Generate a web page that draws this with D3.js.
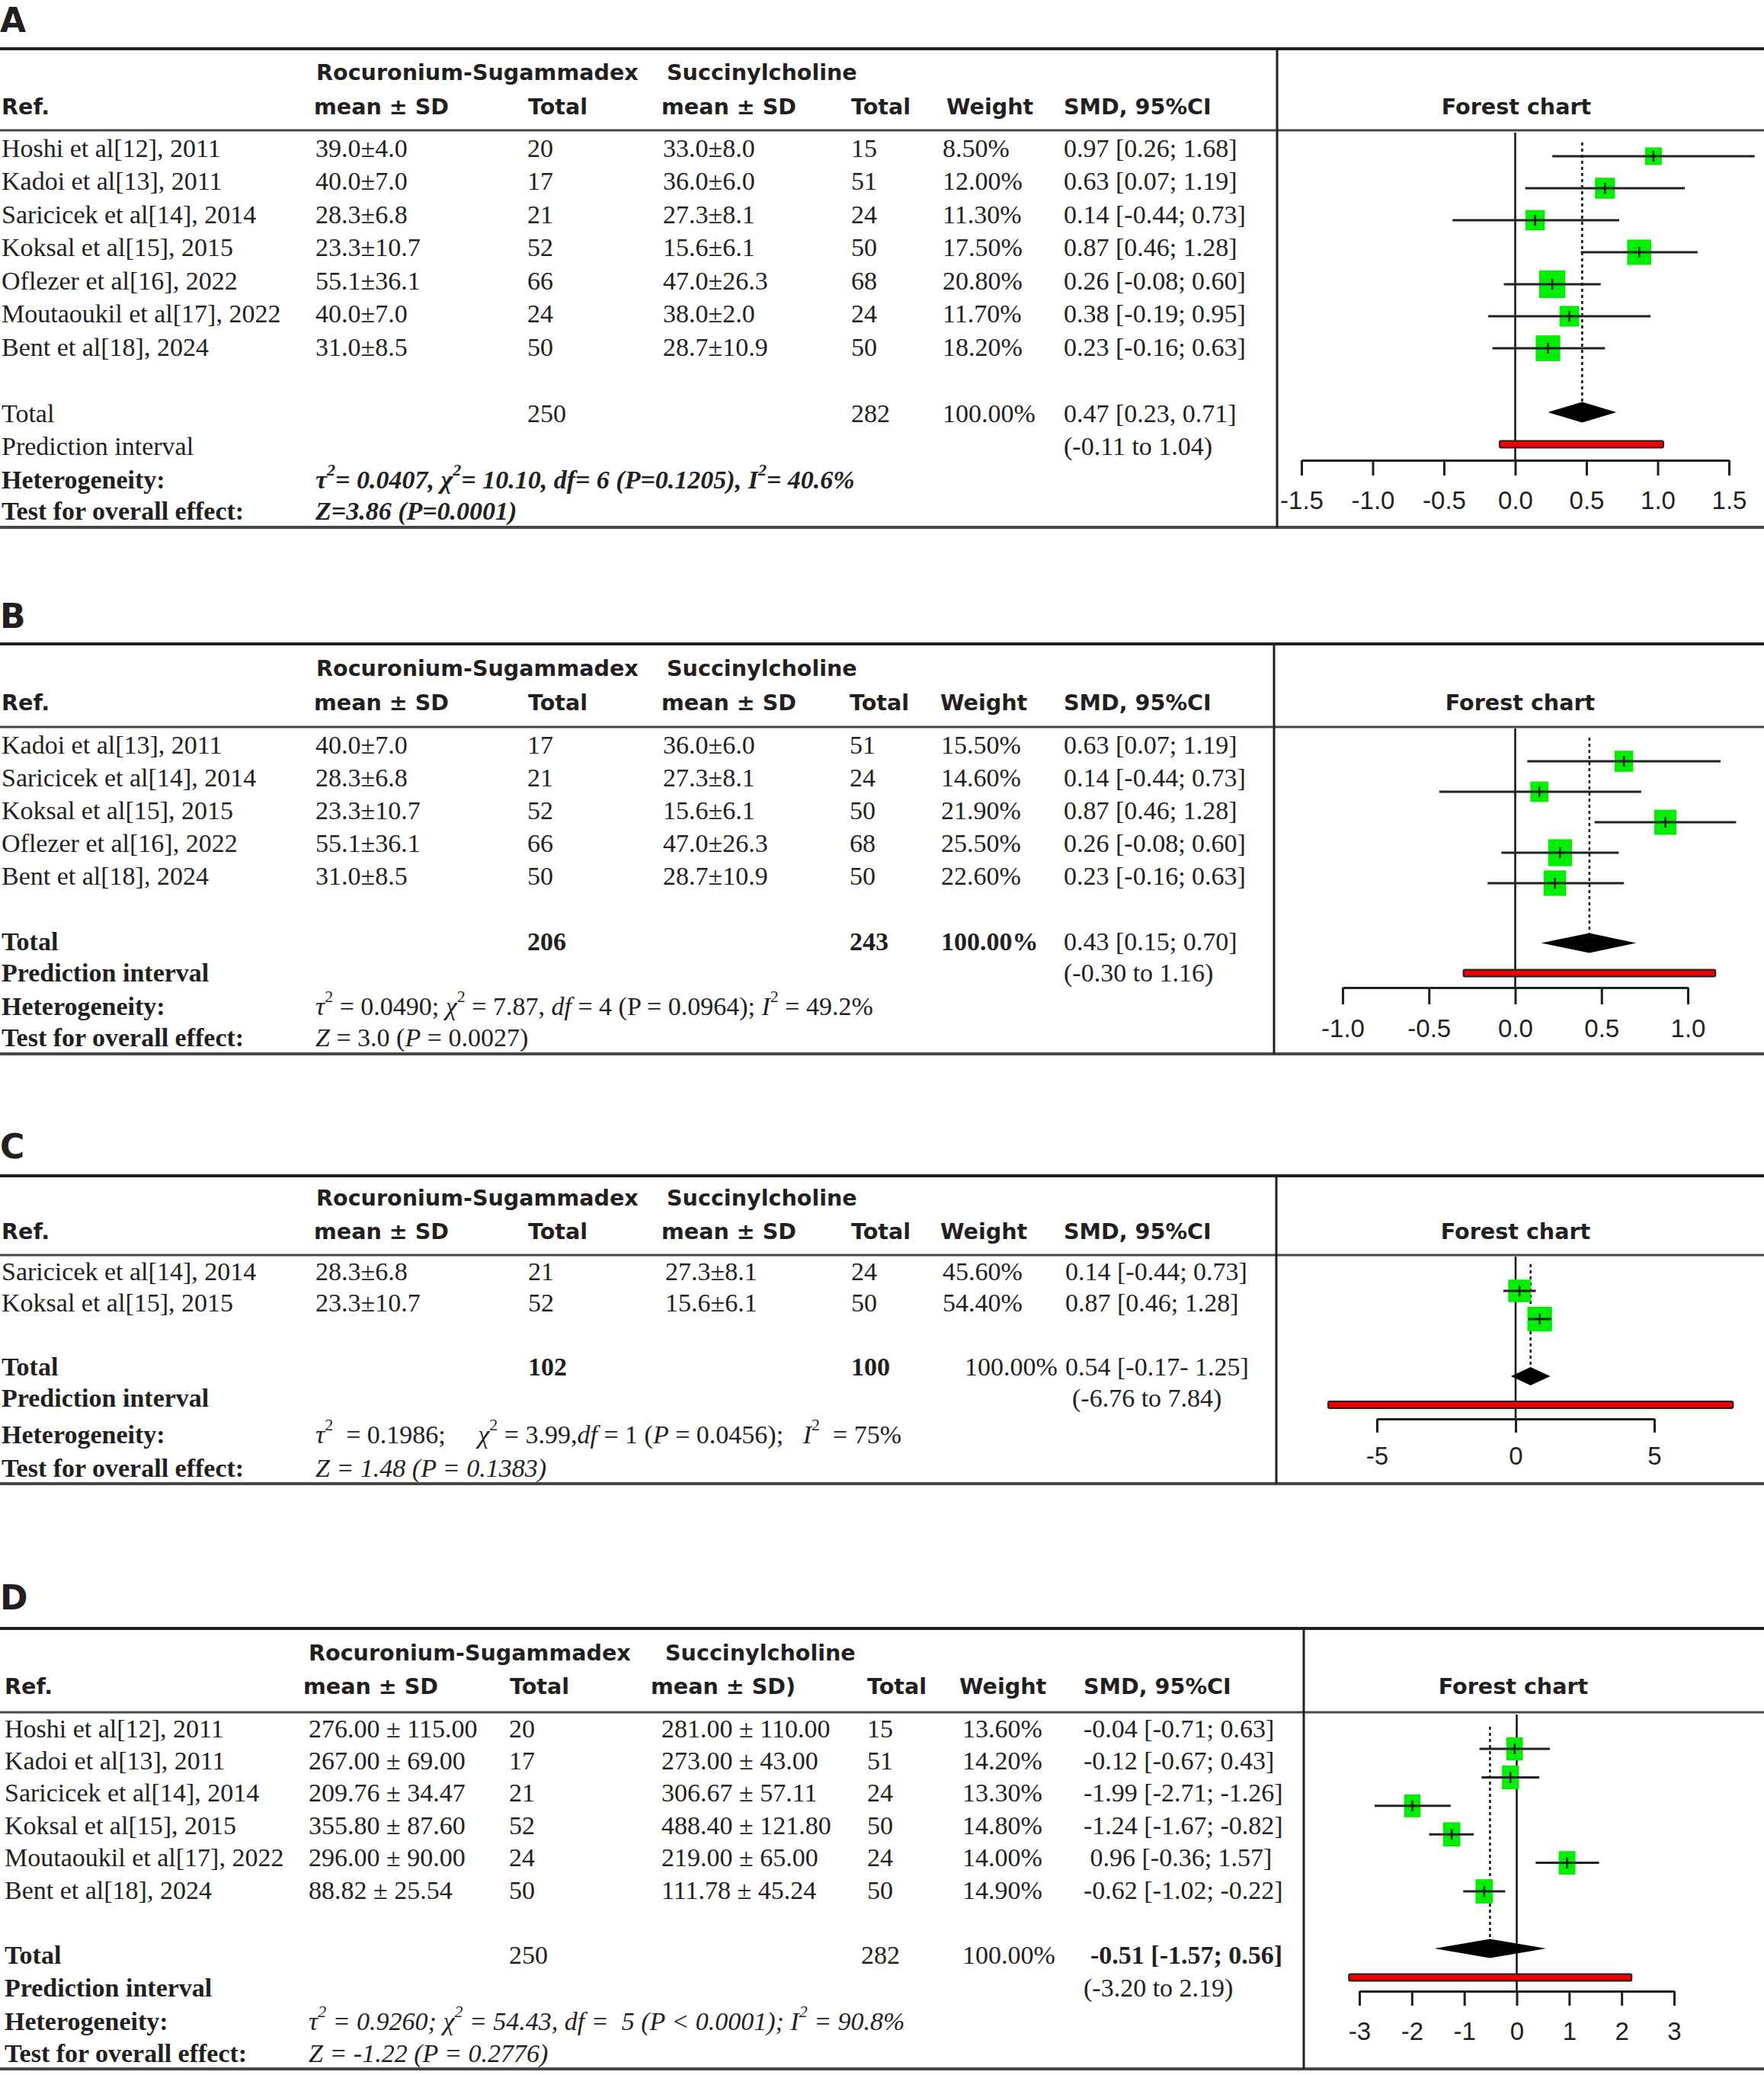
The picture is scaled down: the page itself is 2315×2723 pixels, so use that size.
<!DOCTYPE html>
<html>
<head>
<meta charset="utf-8">
<script src="https://cdn.jsdelivr.net/npm/d3@7/dist/d3.min.js"></script>
<style>
body { margin: 0; background: #fff; }
text { fill: #231f20; white-space: pre; }
.hd { font-family: "DejaVu Sans", sans-serif; font-weight: bold; font-size: 28.6px; }
.lab { font-family: "DejaVu Sans", sans-serif; font-weight: bold; font-size: 44px; }
.tx { font-family: "Liberation Serif", serif; font-size: 34px; }
.tk text { font-family: "Liberation Sans", sans-serif; font-size: 33px; fill: #231f20; }
</style>
</head>
<body>
<svg id="chart"></svg>
<script>
// ---- data ----
const STUDIES = ["Hoshi et al[12], 2011", "Kadoi et al[13], 2011", "Saricicek et al[14], 2014",
                 "Koksal et al[15], 2015", "Oflezer et al[16], 2022", "Moutaoukil et al[17], 2022",
                 "Bent et al[18], 2024"];

// outcome used in panels A, B, C
const rsMean = [39.0, 40.0, 28.3, 23.3, 55.1, 40.0, 31.0];
const rsSd   = [4.0, 7.0, 6.8, 10.7, 36.1, 7.0, 8.5];
const rsN    = [20, 17, 21, 52, 66, 24, 50];
const scMean = [33.0, 36.0, 27.3, 15.6, 47.0, 38.0, 28.7];
const scSd   = [8.0, 6.0, 8.1, 6.1, 26.3, 2.0, 10.9];
const scN    = [15, 51, 24, 50, 68, 24, 50];
const smd    = [0.97, 0.63, 0.14, 0.87, 0.26, 0.38, 0.23];
const smdLo  = [0.26, 0.07, -0.44, 0.46, -0.08, -0.19, -0.16];
const smdHi  = [1.68, 1.19, 0.73, 1.28, 0.60, 0.95, 0.63];

const rowsA = [0, 1, 2, 3, 4, 5, 6];
const weightA = [8.5, 12.0, 11.3, 17.5, 20.8, 11.7, 18.2];
const rowsB = [1, 2, 3, 4, 6];
const weightB = [15.5, 14.6, 21.9, 25.5, 22.6];
const rowsC = [2, 3];
const weightC = [45.6, 54.4];

// outcome used in panel D
const rowsD   = [0, 1, 2, 3, 5, 6];
const dRsMean = [276.00, 267.00, 209.76, 355.80, 296.00, 88.82];
const dRsSd   = [115.00, 69.00, 34.47, 87.60, 90.00, 25.54];
const dScMean = [281.00, 273.00, 306.67, 488.40, 219.00, 111.78];
const dScSd   = [110.00, 43.00, 57.11, 121.80, 65.00, 45.24];
const dSmd    = [-0.04, -0.12, -1.99, -1.24, 0.96, -0.62];
const dLo     = [-0.71, -0.67, -2.71, -1.67, 0.36, -1.02];   // as plotted
const dHi     = [0.63, 0.43, -1.26, -0.82, 1.57, -0.22];
const dSmdText = ["-0.04 [-0.71; 0.63]", "-0.12 [-0.67; 0.43]", "-1.99 [-2.71; -1.26]",
                  "-1.24 [-1.67; -0.82]", " 0.96 [-0.36; 1.57]", "-0.62 [-1.02; -0.22]"];
const weightD = [13.6, 14.2, 13.3, 14.8, 14.0, 14.9];

// pooled results
const totalsA = [250, 282], pooledA = [0.47, 0.23, 0.71], predA = [-0.11, 1.04];
const totalsB = [206, 243], pooledB = [0.43, 0.15, 0.70], predB = [-0.30, 1.16];
const totalsC = [102, 100], pooledC = [0.54, -0.17, 1.25], predC = [-6.76, 7.84];
const totalsD = [250, 282], pooledD = [-0.51, -1.57, 0.56], predD = [-3.20, 2.19];

const ticksA = [-1.5, -1.0, -0.5, 0.0, 0.5, 1.0, 1.5];
const ticksB = [-1.0, -0.5, 0.0, 0.5, 1.0];
const ticksC = [-5, 0, 5];
const ticksD = [-3, -2, -1, 0, 1, 2, 3];

// heterogeneity / overall effect text: [text, italic, superscript]
const hetA = [["τ",1],["2",1,1],["= 0.0407, ",1],["χ",1],["2",1,1],["= 10.10, ",1],["df",1],["= 6 (P=0.1205), ",1],["I",1],["2",1,1],["= 40.6%",1]];
const testA = [["Z=3.86 (P=0.0001)",1]];
const hetB = [["τ",1],["2",0,1],[" = 0.0490; "],["χ",1],["2",0,1],[" = 7.87, "],["df",1],[" = 4 (P = 0.0964); "],["I",1],["2",0,1],[" = 49.2%"]];
const testB = [["Z",1],[" = 3.0 ("],["P",1],[" = 0.0027)"]];
const hetC = [["τ",1],["2",0,1],["  = 0.1986;     "],["χ",1],["2",0,1],[" = 3.99,"],["df",1],[" = 1 ("],["P",1],[" = 0.0456);   "],["I",1],["2",0,1],["  = 75%"]];
const testC = [["Z = 1.48 (P = 0.1383)",1]];
const hetD = [["τ",1],["2",1,1],[" = 0.9260; ",1],["χ",1],["2",1,1],[" = 54.43, ",1],["df",1],[" =  5 (P < 0.0001); ",1],["I",1],["2",1,1],[" = 90.8%",1]];
const testD = [["Z = -1.22 (P = 0.2776)",1]];

// ---- layout ----
const W = 2315, H = 2723;
const loc = d3.formatLocale({decimal: ".", thousands: ",", grouping: [3], currency: ["", ""], minus: "-"});
const f1 = loc.format(".1f"), f2 = loc.format(".2f"), f0 = loc.format("d");

const svg = d3.select("#chart").attr("width", W).attr("height", H);

function buildRows(rows, w, isD) {
  return rows.map(function(r, i) {
    if (isD) {
      return {
        name: STUDIES[r],
        rs: f2(dRsMean[i]) + " ± " + f2(dRsSd[i]), rsN: rsN[r],
        sc: f2(dScMean[i]) + " ± " + f2(dScSd[i]), scN: scN[r],
        wt: f2(w[i]) + "%", ci: dSmdText[i],
        est: dSmd[i], lo: dLo[i], hi: dHi[i], w: w[i]
      };
    }
    return {
      name: STUDIES[r],
      rs: f1(rsMean[r]) + "±" + f1(rsSd[r]), rsN: rsN[r],
      sc: f1(scMean[r]) + "±" + f1(scSd[r]), scN: scN[r],
      wt: f2(w[i]) + "%", ci: f2(smd[r]) + " [" + f2(smdLo[r]) + "; " + f2(smdHi[r]) + "]",
      est: smd[r], lo: smdLo[r], hi: smdHi[r], w: w[i]
    };
  });
}

const PANELS = [
  { name: "A", rows: buildRows(rowsA, weightA), totals: totalsA, pooled: pooledA, pred: predA,
    pooledText: "0.47 [0.23, 0.71]", ticks: ticksA, fmt: f1, het: hetA, test: testA, statBold: true,
    bold: {total: false, n: false, wt: false, smd: false, pred: false}, mean2: "mean ± SD",
    y: {label: 26, top: 64, hdr1: 95, hdr2: 140, sep: 171, row0: 194, step: 43.5, total: 542, pred: 585, het: 629, test: 670, bottom: 692},
    cx: {ref: 2, rs: 414, rsN: 692, sc: 870, scN: 1117, wt: 1237, smd: 1396, totN2: 1117, totWt: 1237, totSmd: 1396, pred: 1396},
    hx: {roc: 415, mean1: 412, tot1: 693, succ: 875, mean2: 868, tot2: 1117, wt: 1242, smd: 1396},
    div: 1676, fc: 1990, domain: [-1.5, 1.5], range: [1708, 2269],
    f: {mk0: 205, mkStep: 42, axisY: 604, tickLen: 20, labelY: 656, diaY: 541, diaH: 13.5, predY: 583,
        zeroTop: 174, dashTop: 187, dashBot: 529, sq: 7.55, asp: 1.05} },
  { name: "B", rows: buildRows(rowsB, weightB), totals: totalsB, pooled: pooledB, pred: predB,
    pooledText: "0.43 [0.15; 0.70]", ticks: ticksB, fmt: f1, het: hetB, test: testB, statBold: false,
    bold: {total: true, n: true, wt: true, smd: false, pred: true}, mean2: "mean ± SD",
    y: {label: 808, top: 845, hdr1: 877, hdr2: 922, sep: 954, row0: 977, step: 43, total: 1235, pred: 1276, het: 1320, test: 1361, bottom: 1383},
    cx: {ref: 2, rs: 414, rsN: 692, sc: 870, scN: 1115, wt: 1235, smd: 1396, totN2: 1115, totWt: 1235, totSmd: 1396, pred: 1396},
    hx: {roc: 415, mean1: 412, tot1: 693, succ: 875, mean2: 868, tot2: 1115, wt: 1234, smd: 1396},
    div: 1672, fc: 1995, domain: [-1, 1], range: [1762, 2215],
    f: {mk0: 999, mkStep: 40, axisY: 1296, tickLen: 22, labelY: 1349, diaY: 1237.5, diaH: 13, predY: 1277,
        zeroTop: 956, dashTop: 968, dashBot: 1225, sq: 6.2, asp: 1.13} },
  { name: "C", rows: buildRows(rowsC, weightC), totals: totalsC, pooled: pooledC, pred: predC,
    pooledText: "0.54 [-0.17- 1.25]", ticks: ticksC, fmt: f0, het: hetC, test: testC, statBold: false,
    bold: {total: true, n: true, wt: false, smd: false, pred: true}, mean2: "mean ± SD",
    y: {label: 1504, top: 1543, hdr1: 1572, hdr2: 1616, sep: 1647, row0: 1668, step: 41, total: 1793, pred: 1834, het: 1882, test: 1926, bottom: 1947},
    cx: {ref: 2, rs: 414, rsN: 693, sc: 873, scN: 1117, wt: 1237, smd: 1398, totN2: 1117, totWt: 1266, totSmd: 1398, pred: 1407},
    hx: {roc: 415, mean1: 412, tot1: 693, succ: 875, mean2: 868, tot2: 1117, wt: 1234, smd: 1396},
    div: 1675, fc: 1989, domain: [-5, 5], range: [1807, 2171],
    f: {mk0: 1694, mkStep: 37, axisY: 1862, tickLen: 18, labelY: 1910, diaY: 1806, diaH: 12, predY: 1843.5,
        zeroTop: 1649, dashTop: 1659, dashBot: 1799, sq: 4.38, asp: 1.0} },
  { name: "D", rows: buildRows(rowsD, weightD, true), totals: totalsD, pooled: pooledD, pred: predD,
    pooledText: "-0.51 [-1.57; 0.56]", ticks: ticksD, fmt: f0, het: hetD, test: testD, statBold: false,
    bold: {total: true, n: false, wt: false, smd: true, pred: true}, mean2: "mean ± SD)",
    y: {label: 2096, top: 2137, hdr1: 2169, hdr2: 2213, sep: 2247, row0: 2268, step: 42.4, total: 2565, pred: 2608, het: 2652, test: 2694, bottom: 2715},
    cx: {ref: 6, rs: 405, rsN: 668, sc: 868, scN: 1138, wt: 1263, smd: 1422, totN2: 1130, totWt: 1263, totSmd: 1431, pred: 1422},
    hx: {roc: 405, mean1: 398, tot1: 669, succ: 873, mean2: 854, tot2: 1138, wt: 1259, smd: 1422},
    div: 1711, fc: 1986, domain: [-3, 3], range: [1784, 2197],
    f: {mk0: 2295, mkStep: 37.4, axisY: 2613, tickLen: 19, labelY: 2665, diaY: 2557, diaH: 12.5, predY: 2595,
        zeroTop: 2250, dashTop: 2266, dashBot: 2546, sq: 5.88, asp: 1.4} }
];

function txt(g, x, y, s, cls, bold) {
  return g.append("text").attr("class", cls).attr("x", x).attr("y", y)
    .attr("dominant-baseline", "central")
    .style("font-weight", bold ? "bold" : null)
    .text(s);
}

function rich(g, x, y, segs, bold) {
  const t = g.append("text").attr("class", "tx").attr("x", x).attr("y", y)
    .attr("dominant-baseline", "central")
    .style("font-weight", bold ? "bold" : null);
  segs.forEach(function(s) {
    const sp = t.append("tspan").text(s[0]);
    if (s[1]) sp.style("font-style", "italic");
    if (s[2]) sp.attr("baseline-shift", "super").style("font-size", "22px");
  });
}

function drawPanel(P) {
  const g = svg.append("g");
  const Y = P.y, cx = P.cx, hx = P.hx, F = P.f;

  txt(g, 0, Y.label, P.name, "lab");

  // rules
  const line = function(x1, y1, x2, y2, w, col) {
    return g.append("line").attr("x1", x1).attr("y1", y1).attr("x2", x2).attr("y2", y2)
      .attr("stroke", col || "#231f20").attr("stroke-width", w);
  };
  line(0, Y.top, W, Y.top, 4);
  line(0, Y.sep, W, Y.sep, 3, "#4a4646");
  line(0, Y.bottom, W, Y.bottom, 4, "#4a4646");
  line(P.div, Y.top, P.div, Y.bottom, 3);

  // headers
  txt(g, hx.roc, Y.hdr1, "Rocuronium-Sugammadex", "hd");
  txt(g, hx.succ, Y.hdr1, "Succinylcholine", "hd");
  txt(g, cx.ref, Y.hdr2, "Ref.", "hd");
  txt(g, hx.mean1, Y.hdr2, "mean ± SD", "hd");
  txt(g, hx.tot1, Y.hdr2, "Total", "hd");
  txt(g, hx.mean2, Y.hdr2, P.mean2, "hd");
  txt(g, hx.tot2, Y.hdr2, "Total", "hd");
  txt(g, hx.wt, Y.hdr2, "Weight", "hd");
  txt(g, hx.smd, Y.hdr2, "SMD, 95%CI", "hd");
  txt(g, P.fc, Y.hdr2, "Forest chart", "hd").attr("text-anchor", "middle");

  // study rows
  P.rows.forEach(function(r, i) {
    const y = Y.row0 + i * Y.step;
    txt(g, cx.ref, y, r.name, "tx");
    txt(g, cx.rs, y, r.rs, "tx");
    txt(g, cx.rsN, y, r.rsN, "tx");
    txt(g, cx.sc, y, r.sc, "tx");
    txt(g, cx.scN, y, r.scN, "tx");
    txt(g, cx.wt, y, r.wt, "tx");
    txt(g, cx.smd, y, r.ci, "tx");
  });

  // summary rows
  txt(g, cx.ref, Y.total, "Total", "tx", P.bold.total);
  txt(g, cx.rsN, Y.total, P.totals[0], "tx", P.bold.n);
  txt(g, cx.totN2, Y.total, P.totals[1], "tx", P.bold.n);
  txt(g, cx.totWt, Y.total, "100.00%", "tx", P.bold.wt);
  txt(g, cx.totSmd, Y.total, P.pooledText, "tx", P.bold.smd);
  txt(g, cx.ref, Y.pred, "Prediction interval", "tx", P.bold.pred);
  txt(g, cx.pred, Y.pred, "(" + f2(P.pred[0]) + " to " + f2(P.pred[1]) + ")", "tx");
  txt(g, cx.ref, Y.het, "Heterogeneity:", "tx", true);
  txt(g, cx.ref, Y.test, "Test for overall effect:", "tx", true);
  rich(g, cx.rs, Y.het, P.het, P.statBold);
  rich(g, cx.rs, Y.test, P.test, P.statBold);

  // forest plot
  const x = d3.scaleLinear().domain(P.domain).range(P.range);

  line(x(0), F.zeroTop, x(0), F.axisY, 2.5, "#111");
  line(x(P.pooled[0]), F.dashTop, x(P.pooled[0]), F.dashBot, 2.5, "#111")
    .attr("stroke-dasharray", "4,4");

  const mk = g.selectAll("g.mk").data(P.rows).enter().append("g").attr("class", "mk")
    .attr("transform", function(d, i) { return "translate(0," + (F.mk0 + i * F.mkStep) + ")"; });
  mk.append("rect")
    .attr("x", function(d) { return x(d.est) - F.sq * Math.sqrt(d.w) / 2; })
    .attr("y", function(d) { return -F.sq * F.asp * Math.sqrt(d.w) / 2; })
    .attr("width", function(d) { return F.sq * Math.sqrt(d.w); })
    .attr("height", function(d) { return F.sq * F.asp * Math.sqrt(d.w); })
    .attr("fill", "#00ee00");
  mk.append("line")
    .attr("x1", function(d) { return x(d.lo); })
    .attr("x2", function(d) { return x(d.hi); })
    .attr("stroke", "#222").attr("stroke-width", 3);
  mk.append("line")
    .attr("x1", function(d) { return x(d.est); })
    .attr("x2", function(d) { return x(d.est); })
    .attr("y1", -7).attr("y2", 7)
    .attr("stroke", "#222").attr("stroke-width", 2.5);

  // pooled diamond
  g.append("polygon")
    .attr("points", [
      [x(P.pooled[1]), F.diaY], [x(P.pooled[0]), F.diaY - F.diaH],
      [x(P.pooled[2]), F.diaY], [x(P.pooled[0]), F.diaY + F.diaH]
    ].map(function(p) { return p.join(","); }).join(" "))
    .attr("fill", "#000");

  // prediction interval
  g.append("rect")
    .attr("x", x(P.pred[0])).attr("y", F.predY - 4.5)
    .attr("width", x(P.pred[1]) - x(P.pred[0])).attr("height", 9)
    .attr("rx", 2)
    .attr("fill", "#ee0000").attr("stroke", "#222").attr("stroke-width", 2);

  // axis
  const ax = g.append("g").attr("class", "tk")
    .attr("transform", "translate(0," + F.axisY + ")")
    .call(d3.axisBottom(x).tickValues(P.ticks).tickFormat(P.fmt)
      .tickSize(F.tickLen).tickSizeOuter(0));
  ax.select(".domain").attr("stroke", "#231f20").attr("stroke-width", 3);
  ax.selectAll(".tick line").attr("stroke", "#231f20").attr("stroke-width", 3);
  ax.selectAll(".tick text").attr("y", F.labelY - F.axisY).attr("dy", null)
    .attr("dominant-baseline", "central");
}

PANELS.forEach(drawPanel);
</script>
</body>
</html>
